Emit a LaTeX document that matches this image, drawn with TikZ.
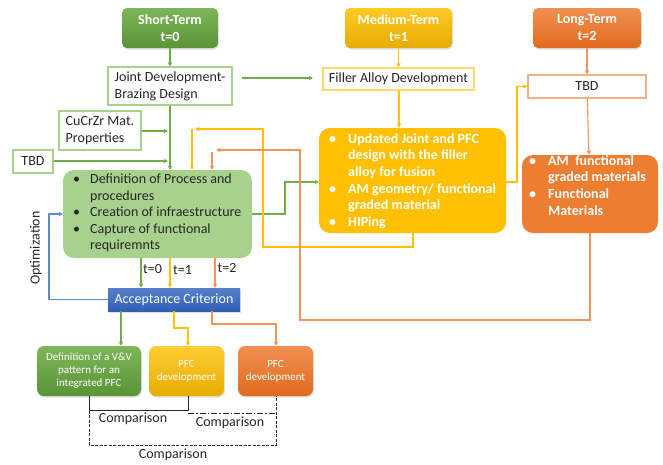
\documentclass[tikz,border=0pt]{standalone}
\usepackage{fontspec}
\setmainfont{Carlito}
\usetikzlibrary{arrows.meta,shadows,calc}
\definecolor{gA}{HTML}{70AD47}
\definecolor{gAd}{HTML}{5A9437}
\definecolor{gL}{HTML}{A9D18E}
\definecolor{yA}{HTML}{FFC000}
\definecolor{yAd}{HTML}{E6AC00}
\definecolor{yL}{HTML}{FFD966}
\definecolor{oA}{HTML}{ED7D31}
\definecolor{oAd}{HTML}{E06A1E}
\definecolor{oL}{HTML}{F4B183}
\definecolor{oLine}{HTML}{F29458}
\definecolor{bA}{HTML}{4472C4}
\definecolor{bAd}{HTML}{2F5FB5}
\definecolor{bL}{HTML}{5B8BD9}
\definecolor{txt}{HTML}{262626}
\tikzset{
  tip/.style={-{Triangle[length=4pt,width=4pt]}},
  gline/.style={draw=gA,line width=1.1pt},
  yline/.style={draw=yA,line width=1.1pt},
  oline/.style={draw=oLine,line width=1.1pt},
  bline/.style={draw=bL,line width=1.1pt},
  kline/.style={draw=txt,line width=1pt},
  titlebox/.style={rounded corners=5pt,minimum height=40pt,text=white,font=\fontsize{14}{17}\selectfont\bfseries,align=center,inner sep=0pt,drop shadow={opacity=0.25,shadow xshift=1pt,shadow yshift=-1.5pt}},
  plainbox/.style={fill=white,line width=1.2pt,inner sep=0pt,text=txt,font=\fontsize{14}{17}\selectfont,align=center},
  bigbox/.style={rounded corners=11pt,inner sep=0pt},
  smallbox/.style={rounded corners=7pt,minimum height=50pt,text=white,font=\fontsize{11}{13}\selectfont,align=center,inner sep=0pt,drop shadow={opacity=0.25,shadow xshift=1pt,shadow yshift=-1.5pt}},
  lbl/.style={text=txt,font=\fontsize{14}{16}\selectfont,inner sep=0pt},
}
\begin{document}
\begin{tikzpicture}[x=1pt,y=-1pt]
\useasboundingbox (0,0) rectangle (663,464);
% title boxes
\node[titlebox,top color=gA!90!white,bottom color=gAd,minimum width=96pt] (short) at (170,28) {Short-Term\\t=0};
\node[titlebox,top color=yA!85!white,bottom color=yAd,minimum width=107pt] (medium) at (398.5,28) {Medium-Term\\t=1};
\node[titlebox,top color=oA!85!white,bottom color=oAd,minimum width=108pt] (long) at (587,28) {Long-Term\\t=2};
% plain boxes
\node[plainbox,draw=gL,minimum width=124pt,minimum height=38pt,align=left] (joint) at (170,86) {Joint Development-\\Brazing Design};
\node[plainbox,draw=yL,minimum width=151pt,minimum height=22pt] (filler) at (398.5,79) {Filler Alloy Development};
\node[plainbox,draw=oL,minimum width=118pt,minimum height=23pt] (tbdr) at (587,86.5) {TBD};
\node[plainbox,draw=gL,minimum width=82pt,minimum height=39pt,align=left] (cucrzr) at (100,130.5) {CuCrZr Mat.\\Properties};
\node[plainbox,draw=gL,minimum width=40pt,minimum height=23pt] (tbdl) at (33,161.5) {TBD};
% big boxes
\node[bigbox,fill=gL,minimum width=189pt,minimum height=88pt] (green) at (157.5,214) {};
\node[bigbox,fill=yA,minimum width=187pt,minimum height=105pt] (yellow) at (412.5,180.5) {};
\node[bigbox,fill=oA,minimum width=136pt,minimum height=78pt] (orange) at (590,194) {};
\node[anchor=west,inner sep=0pt,text=txt,font=\fontsize{14}{16.5}\selectfont] (greentxt) at (73,213.5) {%
\begin{tabular}{@{}l@{}l@{}}
\makebox[17pt][l]{\textbullet} & Definition of Process and\\
 & procedures\\
\makebox[17pt][l]{\textbullet} & Creation of infraestructure\\
\makebox[17pt][l]{\textbullet} & Capture of functional\\
 & requiremnts
\end{tabular}};
\node[anchor=west,inner sep=0pt,text=white,font=\fontsize{14}{16.7}\selectfont\bfseries] (yellowtxt) at (329,181.5) {%
\begin{tabular}{@{}l@{}l@{}}
\makebox[19pt][l]{\textbullet} & Updated Joint and PFC\\
 & design with the filler\\
 & alloy for fusion\\
\makebox[19pt][l]{\textbullet} & AM geometry/ functional\\
 & graded material\\
\makebox[19pt][l]{\textbullet} & HIPing
\end{tabular}};
\node[anchor=west,inner sep=0pt,text=white,font=\fontsize{14}{16.7}\selectfont\bfseries] (orangetxt) at (529,187) {%
\begin{tabular}{@{}l@{}l@{}}
\makebox[19pt][l]{\textbullet} & AM\ \ functional\\
 & graded materials\\
\makebox[19pt][l]{\textbullet} & Functional\\
 & Materials
\end{tabular}};
% acceptance
\node[top color=bA!90!white,bottom color=bAd,minimum width=132pt,minimum height=23pt,inner sep=0pt,text=white,font=\fontsize{14}{16}\selectfont,drop shadow={opacity=0.25,shadow xshift=1pt,shadow yshift=-1.5pt}] (accept) at (174,299.5) {Acceptance Criterion};
% small boxes
\node[smallbox,top color=gA!90!white,bottom color=gAd,minimum width=104pt] (vv) at (89,371) {Definition of a V\&V\\pattern for an\\integrated PFC};
\node[smallbox,top color=yA!80!white,bottom color=yAd,minimum width=75pt] (pfcy) at (186.5,371) {PFC\\development};
\node[smallbox,top color=oA!85!white,bottom color=oAd,minimum width=75pt] (pfco) at (275.5,371) {PFC\\development};
% coordinates
\coordinate (jf1) at (242,78);
\coordinate (jf2) at (313,78);
\coordinate (cuEnd) at (168,131);
\coordinate (tbEnd) at (168,161);
% top connectors
\draw[gline,tip] (short) -- (joint);
\draw[gline,tip] (jf1) -- (jf2);
\draw[yline,tip] (medium) -- (filler);
\draw[oline,tip] (long) -- (tbdr);
\draw[oline,tip] (tbdr) -- (orange);
\draw[yline,tip] (filler.south -| 399,0) -- (yellow.north -| 399,0);
\draw[yline,tip] (yellow.east |- 0,182) -- (517,182) -- (517,86.5) -- (tbdr.west);
\draw[gline,tip] (joint) -- (green.north -| joint);
\draw[gline,tip] (cucrzr.east |- cuEnd) -- (cuEnd);
\draw[gline,tip] (tbdl.east |- tbEnd) -- (tbEnd);
\draw[gline,tip] (green.east) -- (285,214) -- (285,182) -- (yellow.west |- 0,182);
% feedback
\draw[yline,tip] (yellow.south -| 413,0) -- (413,247) -- (263,247) -- (263,129) -- (195,129);
\draw[yline,tip] (192,129) -- (green.north -| 192,0);
\draw[oline,tip] (orange.south -| 590,0) -- (590,320) -- (300,320) -- (300,150) -- (216,150);
\draw[oline,tip] (212,152) -- (green.north -| 212,0);
\draw[bline,tip] (accept.west) -- (49,299.5) -- (49,214) -- (green.west);
\node[lbl,rotate=90] (optim) at (36,248) {Optimization};
% t arrows
\draw[gline,tip] (green.south -| 141,0) -- (accept.north -| 141,0);
\draw[yline,tip] (green.south -| 170,0) -- (accept.north -| 170,0);
\draw[oline,tip] (green.south -| 215,0) -- (accept.north -| 215,0);
\node[lbl] (t0) at (152.5,269) {t=0};
\node[lbl] (t1) at (182.5,270) {t=1};
\node[lbl] (t2) at (227,268) {t=2};
% to small boxes
\draw[gline,tip] (accept.south -| 121,0) -- (vv.north -| 121,0);
\draw[yline,tip] (accept.south -| 174,0) -- (174,328) -- (188,328) -- (pfcy.north -| 188,0);
\draw[oline,tip] (accept.south -| 212,0) -- (212,324) -- (276,324) -- (pfco.north -| 276,0);
% comparisons
\draw[kline] (vv.south -| 89,0) -- (89,410.5) -- (188,410.5) -- (pfcy.south -| 188,0);
\draw[kline,dash pattern=on 6pt off 2pt on 1.5pt off 2pt] (188,413.5) -- (276,413.5);
\draw[kline,dash pattern=on 3pt off 1.5pt] (89,410.5) -- (89,445) -- (276,445) -- (pfco.south -| 276,0);
\node[lbl] (c1) at (133,419) {Comparison};
\node[lbl] (c2) at (230,423) {Comparison};
\node[lbl] (c3) at (173,455) {Comparison};
\end{tikzpicture}
\end{document}
